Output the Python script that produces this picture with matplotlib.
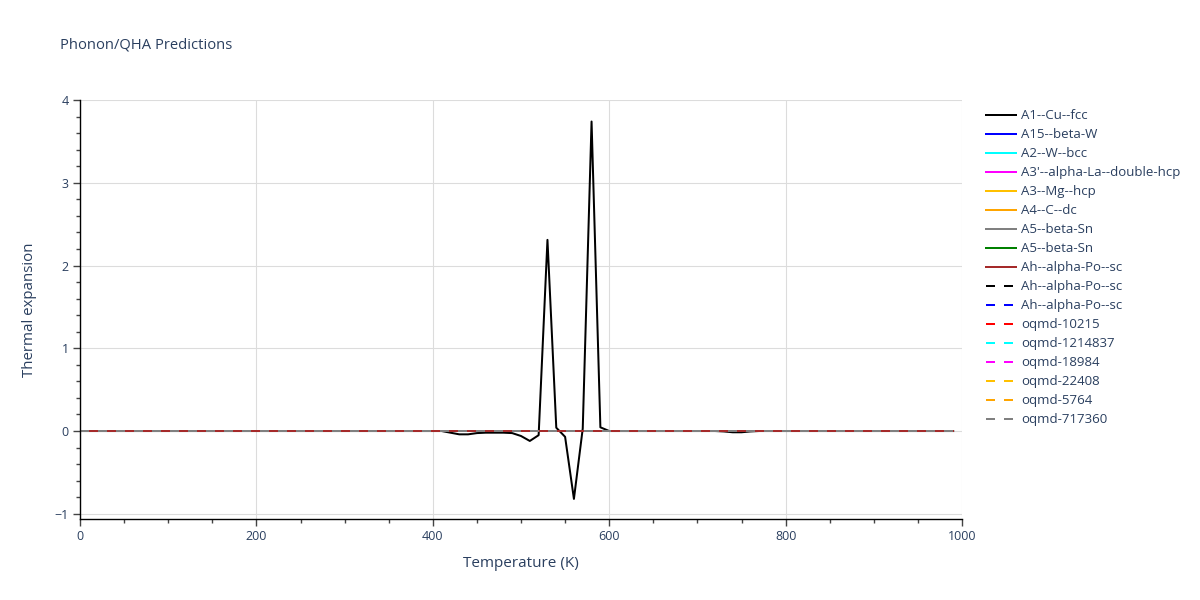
import matplotlib
matplotlib.use("Agg")
import matplotlib.pyplot as plt
from matplotlib.ticker import MultipleLocator

plt.rcParams['font.family'] = ['Open Sans', 'DejaVu Sans']

# ---- data ----
temps = list(range(0, 1000, 10))  # 0 .. 990 K

# A1--Cu--fcc thermal expansion; zero unless listed
cu_fcc_nonzero = {
    420: -0.02, 430: -0.04, 440: -0.04, 450: -0.025, 460: -0.02, 470: -0.02,
    480: -0.02, 490: -0.025, 500: -0.06, 510: -0.12, 520: -0.05, 530: 2.31,
    540: 0.04, 550: -0.07, 560: -0.82, 570: 0.03, 580: 3.74, 590: 0.045,
    730: -0.005, 740: -0.015, 750: -0.015, 760: -0.005,
}
cu_fcc = [cu_fcc_nonzero.get(t, 0.0) for t in temps]

# all other predictions are flat at zero on this scale
flat_zero = [0.0 for t in temps]

series_names = [
    "A1--Cu--fcc", "A15--beta-W", "A2--W--bcc", "A3'--alpha-La--double-hcp",
    "A3--Mg--hcp", "A4--C--dc", "A5--beta-Sn", "A5--beta-Sn",
    "Ah--alpha-Po--sc", "Ah--alpha-Po--sc", "Ah--alpha-Po--sc",
    "oqmd-10215", "oqmd-1214837", "oqmd-18984", "oqmd-22408", "oqmd-5764",
    "oqmd-717360",
]
series_colors = [
    "black", "blue", "cyan", "magenta", "#FFC000", "orange", "gray", "green",
    "#A52A2A", "black", "blue", "red", "cyan", "magenta", "#FFC000", "orange",
    "gray",
]
series_dashed = [False] * 9 + [True] * 8
series_values = [cu_fcc] + [flat_zero] * 16

# ---- figure ----
fig = plt.figure(figsize=(12, 6), dpi=100)
ax = fig.add_axes([80 / 1200, 1 - 519 / 600, (962 - 80) / 1200, (519 - 100) / 600])

lw = 1.44
for name, color, dashed, vals in zip(series_names, series_colors, series_dashed, series_values):
    if dashed:
        ax.plot(temps, vals, color=color, lw=lw, dashes=(4.5, 4.5), label=name)
    else:
        ax.plot(temps, vals, color=color, lw=lw, label=name)

ax.set_xlim(0, 1000)
ax.set_ylim(-1.063, 4.0)
ax.xaxis.set_major_locator(MultipleLocator(200))
ax.xaxis.set_minor_locator(MultipleLocator(50))
ax.yaxis.set_major_locator(MultipleLocator(1))
ax.yaxis.set_minor_locator(MultipleLocator(0.2))

textc = '#2a3f5f'
ax.grid(True, which='major', color='#dcdcdc', lw=0.8)
ax.set_axisbelow(True)
for s in ['top', 'right']:
    ax.spines[s].set_visible(False)
for s in ['left', 'bottom']:
    ax.spines[s].set_color('black')
    ax.spines[s].set_linewidth(1.0)
ax.tick_params(which='major', direction='out', length=5, width=1, color='#444444',
               labelsize=9, labelcolor=textc, pad=3)
ax.tick_params(which='minor', direction='out', length=3, width=1, color='#444444')

ax.set_xlabel("Temperature (K)", fontsize=11, color=textc, labelpad=9)
ax.set_ylabel("Thermal expansion", fontsize=10.8, color=textc, labelpad=13)
fig.text(60 / 1200, 1 - 45 / 600, "Phonon/QHA Predictions", fontsize=10.6, color=textc,
         va='center', ha='left')

leg = ax.legend(loc='upper left', bbox_to_anchor=(1.027, 0.978), frameon=False,
                fontsize=9.5, handlelength=2.27, handletextpad=0.38, labelspacing=0.455,
                borderaxespad=0.0, borderpad=0.0)
for t in leg.get_texts():
    t.set_color(textc)

fig.savefig("out.png", dpi=100)
